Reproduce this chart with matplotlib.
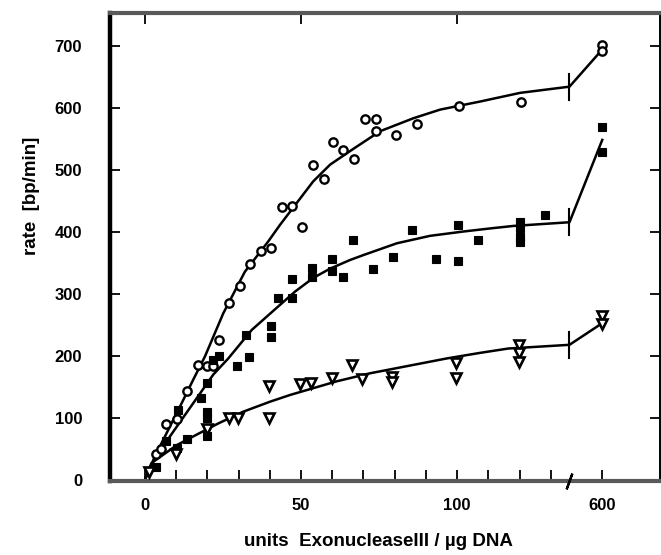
import numpy as np
import matplotlib
matplotlib.use('Agg')
import matplotlib.pyplot as plt
from matplotlib.ticker import FixedLocator, FixedFormatter, FuncFormatter
from matplotlib.scale import FuncScale

plt.rcParams['font.family'] = ['Liberation Sans', 'DejaVu Sans']

# ---------------- data ----------------
circ_x = [3.5, 5, 6.7, 10.2, 13.6, 17.1, 20, 21.7, 23.6, 26.9, 30.5, 33.7, 37.1,
          40.3, 43.8, 47, 50.3, 53.7, 57.3, 60.2, 63.6, 67, 70.5, 73.9, 73.9,
          80.3, 87.3, 100.5, 120.4, 600, 600]
circ_y = [42, 50, 90, 98, 144, 186, 183, 183, 226, 285, 313, 348, 369,
          374, 441, 442, 409, 509, 486, 545, 533, 518, 582, 582, 564,
          557, 574, 604, 611, 703, 693]

sq_x = [3.5, 6.7, 10.2, 10.7, 13.6, 17.8, 20, 20, 20, 20, 21.7, 23.6, 29.6,
        32.3, 33.3, 40.4, 40.4, 42.7, 47, 47, 53.4, 53.4, 59.8, 59.8, 63.6,
        66.7, 72.9, 79.6, 85.5, 93.3, 100.2, 100.2, 106.8, 120, 120, 120, 120,
        128.2, 600, 600]
sq_y = [21, 62, 51, 112, 66, 132, 156, 110, 100, 70, 193, 200, 184,
        234, 198, 248, 231, 293, 324, 293, 342, 327, 356, 337, 328,
        388, 341, 360, 403, 357, 412, 353, 387, 416, 407, 392, 384,
        428, 570, 529]

tri_x = [1.2, 9.8, 20, 26.8, 29.7, 39.8, 39.8, 49.7, 53.1, 59.8, 66.3, 69.6,
         79.3, 79.3, 99.5, 99.5, 119.8, 119.8, 119.8, 600, 600]
tri_y = [13, 41, 82, 100, 99, 152, 100, 155, 156, 164, 186, 162,
         166, 158, 188, 164, 217, 204, 190, 265, 252]

# fitted curves
circ_fit_x = [0, 3.2, 11.2, 15.5, 19.2, 25.1, 32, 39.5, 43.3, 48.6, 53.9, 59.3,
              66.3, 75.3, 86, 94.6, 107.4, 120.2, 136, 600]
circ_fit_y = [0, 38, 118, 162, 199, 269, 336, 385, 412, 447, 482, 509,
              533, 563, 584, 598, 611, 625, 635, 695]

sq_fit_x = [0, 1.6, 8, 21.9, 26.7, 34.2, 42.7, 48.1, 53.9, 59.3, 65.7, 70,
            80.7, 91.3, 102, 110.6, 118, 136, 600]
sq_fit_y = [0, 21, 70, 170, 196, 242, 280, 304, 326, 341, 355, 363,
            382, 394, 401, 406, 410, 416, 549]

tri_fit_x = [0, 2.1, 10.2, 16.6, 23.5, 31.5, 40, 46.5, 61.4, 72.1, 96.7,
             107.4, 116.4, 136, 600]
tri_fit_y = [0, 27, 56, 73, 91, 110, 126, 137, 159, 172, 196,
             205, 212, 218, 253]

x_major = [0, 50, 100]
x_minor = [10, 20, 30, 40, 60, 70, 80, 90, 110, 120, 130, 600]
x_break = 136
y_ticks = [0, 100, 200, 300, 400, 500, 600, 700]

# ---------------- broken x scale ----------------
K = 10.5 / 464.0

def fwd(x):
    x = np.asarray(x, dtype=float)
    return np.where(x <= x_break, x, x_break + (x - x_break) * K)

def inv(y):
    y = np.asarray(y, dtype=float)
    return np.where(y <= x_break, y, x_break + (y - x_break) / K)

fig = plt.figure(figsize=(6.61, 5.55), dpi=100)
ax = fig.add_axes([110/661, 74/555, 550/661, 468/555])
ax.set_xscale(FuncScale(ax, (fwd, inv)))
ax.set_xlim(-11.2, float(inv(165.0)))
ax.set_ylim(-2, 754)

lw = 1.8
ax.plot(circ_fit_x, circ_fit_y, color='black', lw=lw, zorder=2)
ax.plot(sq_fit_x, sq_fit_y, color='black', lw=lw, zorder=2)
ax.plot(tri_fit_x, tri_fit_y, color='black', lw=lw, zorder=2)

# break marks on the curves
for fx, fy in ((circ_fit_x, circ_fit_y), (sq_fit_x, sq_fit_y), (tri_fit_x, tri_fit_y)):
    yb = fy[fx.index(x_break)]
    ax.plot([x_break, x_break], [yb - 21, yb + 21], color='black', lw=1.5, zorder=2)

ax.plot(circ_x, circ_y, linestyle='none', marker='o', markersize=6.0,
        markerfacecolor='white', markeredgecolor='black', markeredgewidth=1.7, zorder=3)
ax.plot(sq_x, sq_y, linestyle='none', marker='s', markersize=5.8,
        markerfacecolor='black', markeredgecolor='black', markeredgewidth=0.8, zorder=3)
ax.plot(tri_x, tri_y, linestyle='none', marker='v', markersize=6.6,
        markerfacecolor='white', markeredgecolor='black', markeredgewidth=1.9, zorder=3)

# break mark on the x axis
ax.plot([x_break], [0], transform=ax.get_xaxis_transform(), marker=(2, 2, -20),
        markersize=12, color='black', mew=1.6, clip_on=False, zorder=4)

# ticks
ax.xaxis.set_major_locator(FixedLocator(x_major))
ax.xaxis.set_major_formatter(FixedFormatter([str(v) for v in x_major]))
ax.xaxis.set_minor_locator(FixedLocator(x_minor))
ax.xaxis.set_minor_formatter(FuncFormatter(lambda v, p: '600' if abs(v - 600) < 1e-6 else ''))
ax.yaxis.set_major_locator(FixedLocator(y_ticks))

ax.tick_params(axis='x', which='both', direction='in', length=8, width=1.3,
               pad=12, labelsize=12, top=False)
ax.tick_params(axis='x', which='major', top=True)
ax.tick_params(axis='y', which='major', direction='in', length=7, width=1.3,
               pad=20, labelsize=12, right=True)
for lab in ax.get_xticklabels(which='both') + ax.get_yticklabels():
    lab.set_fontweight('bold')

# spines
ax.spines['left'].set_linewidth(3.2)
ax.spines['left'].set_color('black')
ax.spines['right'].set_linewidth(1.4)
ax.spines['right'].set_color('black')
for s in ('top', 'bottom'):
    ax.spines[s].set_linewidth(3.0)
    ax.spines[s].set_color('0.35')

fig.text(32/661, 1 - 196/555, 'rate  [bp/min]', rotation=90, ha='center', va='center',
         fontsize=13.5, fontweight='bold')
fig.text(378/661, 1 - 541/555, 'units  ExonucleaseIII / µg DNA', ha='center', va='center',
         fontsize=13.5, fontweight='bold')

fig.savefig('out.png', dpi=100)
